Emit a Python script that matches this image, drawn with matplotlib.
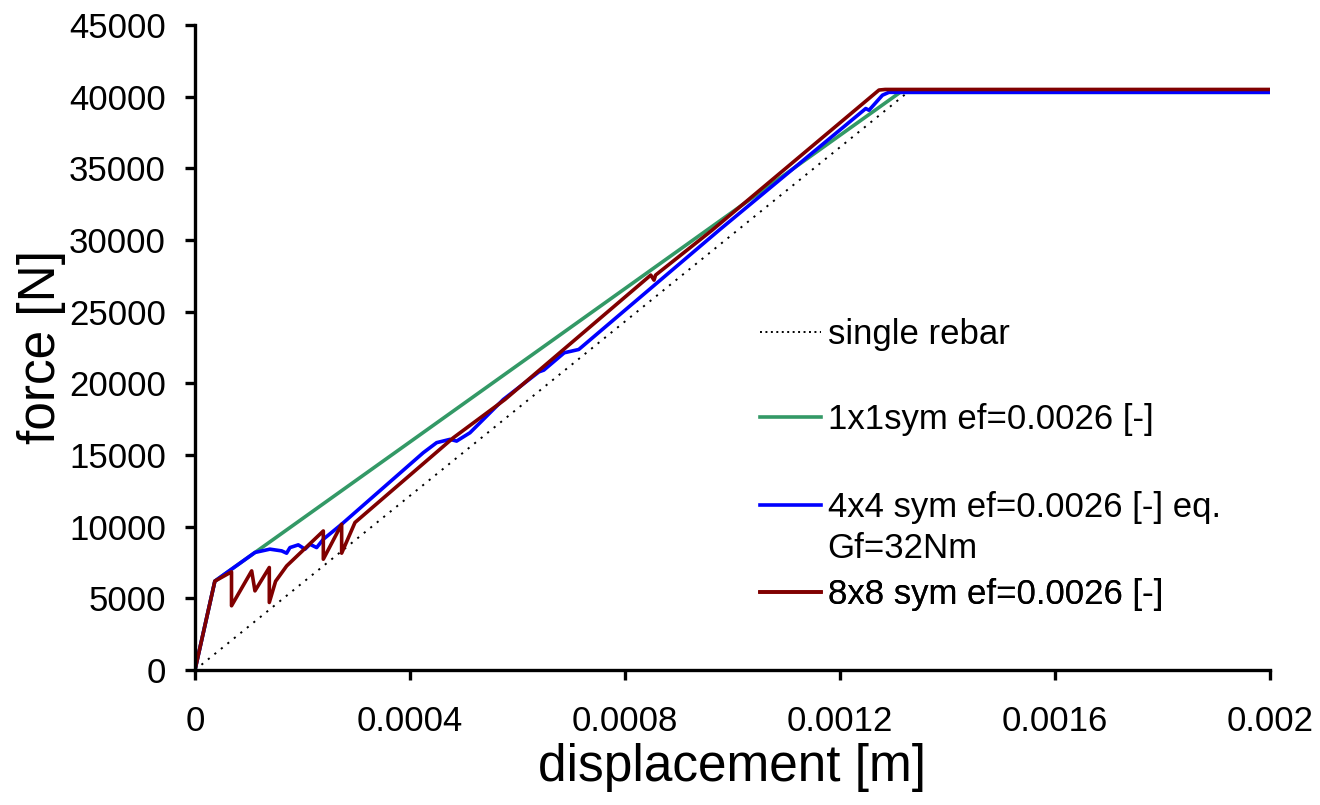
import matplotlib
matplotlib.use("Agg")
import matplotlib.pyplot as plt
from matplotlib.lines import Line2D

plt.rcParams['font.family'] = ['Liberation Sans', 'DejaVu Sans']

# single rebar reference
x_single = [0, 0.001326, 0.002]
f_single = [0, 40300, 40300]

# 1x1 sym
x_1x1 = [0, 0.000037, 0.001312, 0.002]
f_1x1 = [0, 6200, 40300, 40300]

# 4x4 sym, eq. Gf
x_4x4 = [0, 3.7e-5, 1.116e-4, 1.395e-4, 1.613e-4, 1.705e-4, 1.767e-4, 1.922e-4,
         2.047e-4, 2.14e-4, 2.264e-4, 2.388e-4, 2.729e-4, 4.248e-4, 4.496e-4,
         4.744e-4, 4.868e-4, 5.116e-4, 5.736e-4, 6.4e-4, 6.49e-4, 6.87e-4,
         7.14e-4, 7.2e-4, 9.75e-4, 1.248e-3, 1.254e-3, 1.279e-3, 1.291e-3, 0.002]
f_4x4 = [0, 6200, 8200, 8430, 8310, 8150, 8540, 8730,
         8430, 8770, 8540, 9120, 10170, 15160, 15860,
         16090, 15970, 16550, 18870, 20800, 20920, 22130,
         22360, 22550, 30680, 39170, 39050, 40100, 40300, 40300]

# 8x8 sym
x_8x8 = [0, 3.7e-5, 6.8e-5, 6.8e-5, 1.055e-4, 1.116e-4, 1.383e-4, 1.383e-4,
         1.5e-4, 1.706e-4, 2.388e-4, 2.388e-4, 2.729e-4, 2.729e-4, 2.977e-4,
         4.806e-4, 5.767e-4, 8.48e-4, 8.54e-4, 8.57e-4, 9.62e-4, 1.2726e-3,
         1.284e-3, 0.002]
f_8x8 = [0, 6200, 6850, 4480, 6915, 5520, 7150, 4710,
         6190, 7260, 9700, 7730, 10170, 8150, 10290,
         16200, 18870, 27550, 27200, 27550, 30680, 40460,
         40500, 40500]

xticks = [0, 0.0004, 0.0008, 0.0012, 0.0016, 0.002]
xtick_labels = ['0', '0.0004', '0.0008', '0.0012', '0.0016', '0.002']
yticks = list(range(0, 45001, 5000))

labels = ['single rebar', '1x1sym ef=0.0026 [-]',
          '4x4 sym ef=0.0026 [-] eq.', '8x8 sym ef=0.0026 [-]']
label_4x4_line2 = 'Gf=32Nm'
colors = ['black', '#339966', '#0000FF', '#800000']

fig = plt.figure(figsize=(13.2, 8.05), dpi=100)
ax = fig.add_axes([0.1477, 0.1677, 0.8144, 0.8013])

ax.plot(x_single, f_single, color=colors[0], lw=1.4, linestyle=(0, (1.1, 3.2)))
ax.plot(x_1x1, f_1x1, color=colors[1], lw=2.6)
ax.plot(x_4x4, f_4x4, color=colors[2], lw=2.6)
ax.plot(x_8x8, f_8x8, color=colors[3], lw=2.6)

ax.set_xlim(0, 0.002)
ax.set_ylim(0, 45000)
ax.set_xticks(xticks)
ax.set_xticklabels(xtick_labels)
ax.set_yticks(yticks)
ax.set_yticklabels([str(v) for v in yticks])

for s in ['top', 'right']:
    ax.spines[s].set_visible(False)
for s in ['left', 'bottom']:
    ax.spines[s].set_linewidth(2.4)
ax.tick_params(axis='both', direction='out', length=7, width=2.4, labelsize=25)
ax.tick_params(axis='x', pad=18)
ax.tick_params(axis='y', pad=14)

ax.set_xlabel('displacement [m]', fontsize=37, labelpad=4)
ax.set_ylabel('force [N]', fontsize=37, labelpad=2)

# legend entries placed one by one, like the spaced-out original legend
styles = [dict(lw=1.4, linestyle=(0, (1.0, 1.8))), dict(lw=2.6), dict(lw=2.6), dict(lw=2.6)]
ypos = [0.5194, 0.3876, 0.2512, 0.1163]
for lab, c, st, yp in zip(labels, colors, styles, ypos):
    h = Line2D([], [], color=c, **st)
    lg = ax.legend([h], [lab], loc='center left', bbox_to_anchor=(0.5256, yp),
                   frameon=False, fontsize=25, handlelength=1.75, handletextpad=0.2,
                   borderpad=0, borderaxespad=0)
    ax.add_artist(lg)
ax.text(0.588, 0.189, label_4x4_line2, transform=ax.transAxes, fontsize=25,
        ha='left', va='center')

fig.savefig('out.png', dpi=100)
